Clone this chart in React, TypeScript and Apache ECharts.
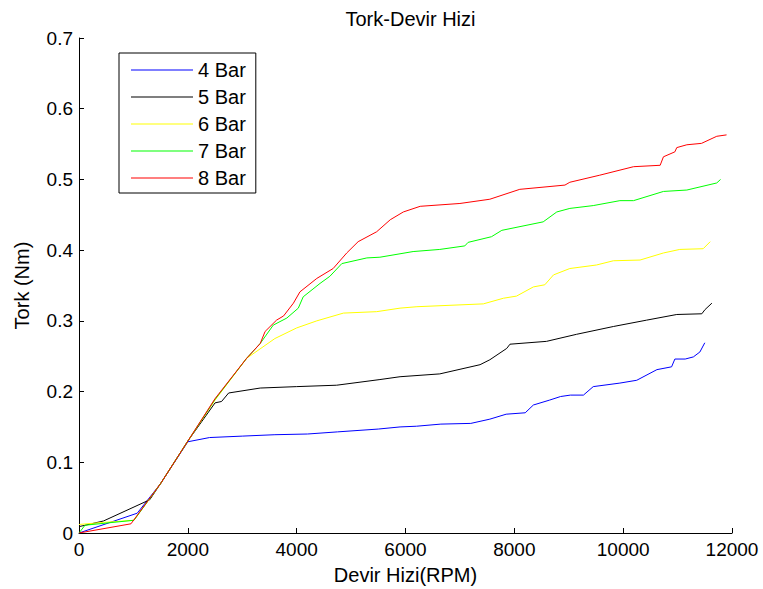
import React, { useEffect, useRef } from "react";
import * as echarts from "echarts";

const seriesNames = ["4 Bar", "5 Bar", "6 Bar", "7 Bar", "8 Bar"];
const seriesColors = ["#0000ff", "#000000", "#ffff00", "#00ff00", "#ff0000"];

const rpm4 = [0, 1070, 1500, 2000, 2400, 3000, 3600, 4200, 4750, 5500, 5900, 6200, 6650, 7200, 7550, 7850, 8200, 8350, 8650, 8850, 9030, 9270, 9450, 9940, 10250, 10620, 10890, 10950, 11140, 11290, 11410, 11500];
const tork4 = [0, 0.028, 0.07, 0.129, 0.135, 0.137, 0.139, 0.14, 0.143, 0.147, 0.15, 0.151, 0.154, 0.155, 0.161, 0.168, 0.17, 0.181, 0.188, 0.193, 0.195, 0.195, 0.207, 0.212, 0.216, 0.231, 0.235, 0.246, 0.246, 0.249, 0.256, 0.269];

const rpm5 = [0, 450, 1300, 1500, 2000, 2500, 2620, 2750, 3330, 4000, 4735, 5530, 5900, 6630, 7370, 7550, 7860, 7920, 8590, 9145, 9820, 10430, 10985, 11445, 11505, 11630];
const tork5 = [0.009, 0.017, 0.047, 0.07, 0.13, 0.184, 0.186, 0.198, 0.205, 0.207, 0.209, 0.217, 0.221, 0.225, 0.238, 0.245, 0.261, 0.267, 0.271, 0.281, 0.292, 0.301, 0.309, 0.31, 0.316, 0.325];

const rpm6 = [0, 450, 1010, 1500, 2000, 2500, 3080, 3600, 4000, 4370, 4860, 5470, 5900, 6210, 7430, 7800, 8040, 8350, 8560, 8720, 9020, 9510, 9820, 10310, 10740, 11040, 11470, 11600];
const tork6 = [0.012, 0.015, 0.018, 0.07, 0.13, 0.188, 0.247, 0.275, 0.29, 0.3, 0.311, 0.313, 0.318, 0.32, 0.324, 0.332, 0.335, 0.348, 0.351, 0.365, 0.374, 0.379, 0.385, 0.386, 0.396, 0.401, 0.402, 0.412];

const rpm7 = [0, 110, 1010, 1500, 2000, 2500, 3080, 3330, 3570, 3820, 4030, 4120, 4430, 4610, 4830, 5290, 5530, 6140, 6630, 7090, 7150, 7580, 7770, 8530, 8780, 9020, 9450, 9940, 10190, 10740, 11170, 11720, 11790];
const tork7 = [0, 0.011, 0.018, 0.07, 0.13, 0.189, 0.247, 0.268, 0.294, 0.304, 0.318, 0.334, 0.353, 0.363, 0.381, 0.389, 0.39, 0.398, 0.401, 0.406, 0.411, 0.419, 0.428, 0.44, 0.454, 0.459, 0.463, 0.47, 0.47, 0.483, 0.485, 0.495, 0.5];

const rpm8 = [0, 955, 1500, 2000, 2500, 3080, 3330, 3420, 3630, 3760, 3940, 4060, 4370, 4670, 4920, 5130, 5470, 5720, 5960, 6270, 7000, 7550, 8100, 8930, 9020, 9570, 10190, 10680, 10740, 10950, 10985, 11170, 11440, 11720, 11900];
const tork8 = [0, 0.013, 0.07, 0.13, 0.19, 0.247, 0.268, 0.285, 0.301, 0.307, 0.325, 0.341, 0.36, 0.374, 0.396, 0.412, 0.426, 0.443, 0.454, 0.462, 0.466, 0.472, 0.486, 0.492, 0.496, 0.506, 0.518, 0.52, 0.532, 0.539, 0.545, 0.549, 0.551, 0.561, 0.563];

const rpmSets = [rpm4, rpm5, rpm6, rpm7, rpm8];
const torkSets = [tork4, tork5, tork6, tork7, tork8];

const xTicks = [0, 2000, 4000, 6000, 8000, 10000, 12000];
const yTicks = [0, 0.1, 0.2, 0.3, 0.4, 0.5, 0.6, 0.7];

const FONT = "'Liberation Sans', Arial, sans-serif";

export default function App() {
  const ref = useRef<HTMLDivElement>(null);
  useEffect(() => {
    if (!ref.current) return;
    const chart = echarts.init(ref.current, null, { renderer: "svg" });
    const axisCommon = {
      type: "value" as const,
      splitLine: { show: false },
      axisLine: { show: true, onZero: false, lineStyle: { color: "#000", width: 1 } },
      axisTick: { show: true, inside: true, length: 5, lineStyle: { color: "#000" } },
      nameTextStyle: { color: "#000", fontSize: 20, fontFamily: FONT },
    };
    chart.setOption({
      animation: false,
      backgroundColor: "#ffffff",
      title: {
        text: "Tork-Devir Hizi",
        left: 405.5,
        top: 4,
        textAlign: "center",
        textStyle: { color: "#000", fontSize: 20, fontWeight: "normal", fontFamily: FONT },
      },
      grid: { left: 79, right: 31, top: 38, bottom: 56, containLabel: false, outerBoundsMode: "none" },
      xAxis: {
        ...axisCommon,
        min: xTicks[0],
        max: xTicks[xTicks.length - 1],
        interval: 2000,
        name: "Devir Hizi(RPM)",
        nameLocation: "middle",
        nameGap: 32,
        axisLabel: { color: "#000", fontSize: 19, fontFamily: FONT, margin: 7, formatter: (v: number) => String(v) },
      },
      yAxis: {
        ...axisCommon,
        min: yTicks[0],
        max: yTicks[yTicks.length - 1],
        interval: 0.1,
        name: "Tork (Nm)",
        nameLocation: "middle",
        nameGap: 47,
        axisLabel: { color: "#000", fontSize: 19, fontFamily: FONT, margin: 6, formatter: (v: number) => String(Math.round(v * 10) / 10) },
      },
      legend: {
        orient: "vertical",
        left: 119,
        top: 53,
        padding: [7, 10, 5, 12],
        icon: "rect",
        itemWidth: 62,
        itemHeight: 1,
        itemGap: 7,
        backgroundColor: "#ffffff",
        borderColor: "#000",
        borderWidth: 1,
        borderRadius: 0,
        textStyle: { color: "#000", fontSize: 20, fontFamily: FONT, lineHeight: 20 },
        data: seriesNames,
      },
      series: seriesNames.map((name, i) => ({
        name,
        type: "line",
        symbol: "none",
        color: seriesColors[i],
        lineStyle: { color: seriesColors[i], width: 1 },
        data: rpmSets[i].map((x, j) => [x, torkSets[i][j]]),
      })),
    });
    return () => chart.dispose();
  }, []);
  return <div ref={ref} style={{ position: "fixed", left: 0, top: 0, width: 763, height: 589 }} />;
}
